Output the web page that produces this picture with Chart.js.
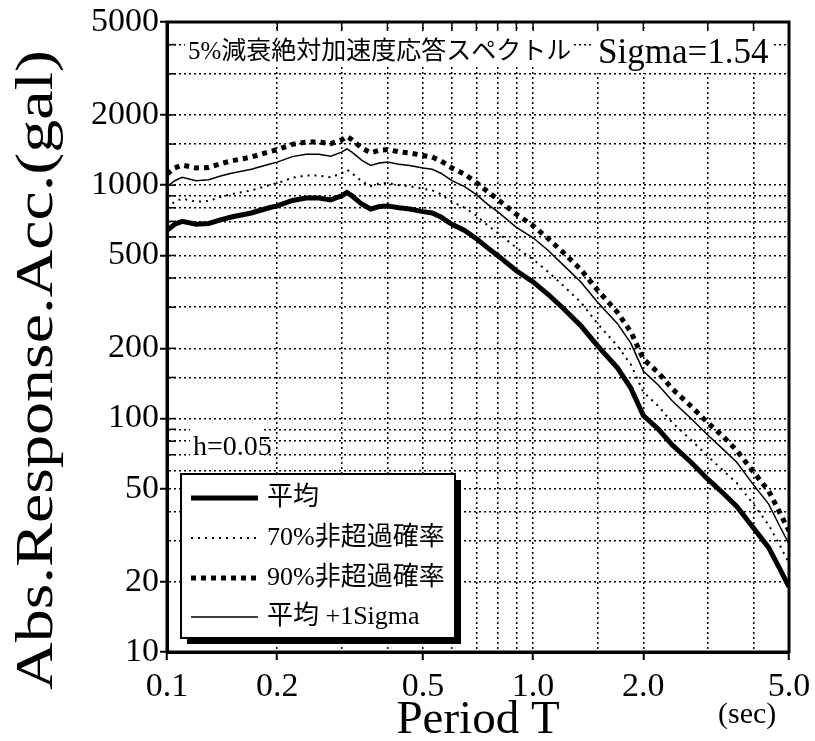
<!DOCTYPE html>
<html>
<head>
<meta charset="utf-8">
<script src="https://cdn.jsdelivr.net/npm/chart.js@4.4.0/dist/chart.umd.min.js"></script>
<style>
body { margin: 0; background: #fff; }
</style>
</head>
<body>
<canvas id="G1" width="815" height="741"></canvas>
<script>
// periodo T (sec)
var periodo = [0.1, 0.105, 0.11, 0.12, 0.13, 0.14, 0.15, 0.17, 0.19, 0.2,
  0.22, 0.24, 0.26, 0.28, 0.3, 0.31, 0.32, 0.34, 0.36, 0.38,
  0.4, 0.43, 0.46, 0.5, 0.53, 0.56, 0.6, 0.65, 0.7, 0.75,
  0.8, 0.9, 1.0, 1.1, 1.2, 1.35, 1.5, 1.7, 1.85, 2.0,
  2.2, 2.4, 2.7, 3.0, 3.3, 3.6, 4.0, 4.4, 4.7, 5.0];

// 平均
var promedio = [640, 680, 700, 680, 685, 710, 730, 760, 800, 815,
  860, 880, 880, 865, 900, 930, 900, 830, 790, 810,
  815, 800, 790, 770, 760, 730, 680, 640, 590, 540,
  500, 430, 385, 340, 300, 250, 205, 165, 135, 103,
  90, 77, 65, 55, 48, 42, 34, 28, 23, 19];

// 70%非超過確率
var p70 = [800, 850, 875, 850, 855, 890, 915, 950, 1000, 1020,
  1075, 1100, 1100, 1080, 1125, 1165, 1125, 1040, 990, 1015,
  1020, 1000, 990, 965, 950, 915, 850, 800, 740, 675,
  625, 540, 480, 425, 375, 315, 255, 205, 170, 130,
  113, 96, 81, 69, 60, 53, 43, 35, 29, 24];

// 90%非超過確率
var p90 = [1115, 1185, 1220, 1185, 1190, 1235, 1270, 1320, 1390, 1420,
  1495, 1530, 1530, 1505, 1565, 1620, 1565, 1445, 1375, 1410,
  1420, 1390, 1375, 1340, 1320, 1270, 1185, 1115, 1025, 940,
  870, 750, 670, 590, 520, 435, 355, 285, 235, 180,
  157, 134, 113, 96, 84, 73, 59, 49, 40, 33];

// 平均 +1Sigma
var sigma1 = [985, 1045, 1080, 1045, 1055, 1095, 1125, 1170, 1230, 1255,
  1325, 1355, 1355, 1330, 1385, 1430, 1385, 1280, 1215, 1245,
  1255, 1230, 1215, 1185, 1170, 1125, 1045, 985, 910, 830,
  770, 660, 595, 525, 460, 385, 315, 255, 210, 160,
  139, 119, 100, 85, 74, 65, 52, 43, 35, 29];

var nombres = ['平均', '70%非超過確率', '90%非超過確率', '平均 +1Sigma'];

var xTicks = [0.1, 0.2, 0.5, 1, 2, 5];
var xTickText = ['0.1', '0.2', '0.5', '1.0', '2.0', '5.0'];
var yTicks = [10, 20, 50, 100, 200, 500, 1000, 2000, 5000];

var SERIF = '"Liberation Serif", "Noto Sans CJK JP", serif';
Chart.defaults.font.family = SERIF;
Chart.defaults.color = '#000';

function buscar(lista, v) {
  for (var i = 0; i < lista.length; i++) {
    if (Math.abs(lista[i] - v) < lista[i] * 1e-6) return i;
  }
  return -1;
}

function puntos(serie) {
  return periodo.map(function (t, i) { return {x: t, y: serie[i]}; });
}

function colorTick(lista) {
  return function (c) {
    if (!c.tick) return '#000';
    return buscar(lista, c.tick.value) >= 0 ? '#000' : 'rgba(0,0,0,0)';
  };
}

var datos = [
  {label: nombres[0], data: puntos(promedio), borderColor: '#000', borderWidth: 5},
  {label: nombres[1], data: puntos(p70), borderColor: '#000', borderWidth: 2, borderDash: [2, 5]},
  {label: nombres[2], data: puntos(p90), borderColor: '#000', borderWidth: 5, borderDash: [5, 5]},
  {label: nombres[3], data: puntos(sigma1), borderColor: '#000', borderWidth: 1.5}
];

// textos dentro del grafico con fondo blanco
function texto(ctx, s, x, y, font, caja) {
  if (caja) {
    ctx.fillStyle = '#fff';
    ctx.fillRect(caja[0], caja[1], caja[2], caja[3]);
  }
  ctx.font = font;
  ctx.fillStyle = '#000';
  ctx.textBaseline = 'alphabetic';
  ctx.textAlign = 'left';
  ctx.fillText(s, x, y);
}

var anotaciones = {
  id: 'anotaciones',
  afterDatasetsDraw: function (chart) {
    var ctx = chart.ctx;
    ctx.save();
    texto(ctx, '5%減衰絶対加速度応答スペクトル', 188, 59, '25px ' + SERIF, [185, 31, 388, 36]);
    texto(ctx, 'Sigma=1.54', 598, 63, '35px ' + SERIF, [594, 29, 180, 44]);
    texto(ctx, 'h=0.05', 193, 455, '28px ' + SERIF, [190, 426, 72, 38]);

    // leyenda
    var bx = 181, by = 474, bw = 274, bh = 164;
    ctx.fillStyle = '#000';
    ctx.fillRect(bx + 6, by + 6, bw, bh);
    ctx.fillStyle = '#fff';
    ctx.fillRect(bx, by, bw, bh);
    ctx.lineWidth = 2;
    ctx.strokeStyle = '#000';
    ctx.strokeRect(bx, by, bw, bh);
    var filas = [498, 538, 578, 617];
    for (var i = 0; i < datos.length; i++) {
      var d = datos[i];
      ctx.beginPath();
      ctx.setLineDash(d.borderDash || []);
      ctx.lineWidth = d.borderWidth;
      ctx.moveTo(191, filas[i]);
      ctx.lineTo(258, filas[i]);
      ctx.stroke();
      ctx.setLineDash([]);
      ctx.font = '26px ' + SERIF;
      ctx.fillStyle = '#000';
      ctx.textBaseline = 'middle';
      ctx.fillText(d.label, 267, filas[i]);
    }

    // (sec)
    texto(ctx, '(sec)', 718, 723, '30px ' + SERIF, null);

    // titulo eje y
    ctx.translate(38, 370);
    ctx.rotate(-Math.PI / 2);
    ctx.font = '52px ' + SERIF;
    var s = 'Abs.Response.Acc.(gal)';
    var w = ctx.measureText(s).width;
    ctx.scale(640 / w, 1);
    ctx.textAlign = 'center';
    ctx.textBaseline = 'middle';
    ctx.fillText(s, 0, 0);
    ctx.restore();
  }
};

// marco y marcas interiores
var marco = {
  id: 'marco',
  afterDraw: function (chart) {
    var ctx = chart.ctx, a = chart.chartArea;
    ctx.save();
    ctx.strokeStyle = '#000';
    ctx.lineWidth = 1.5;
    chart.scales.x.ticks.forEach(function (t) {
      var px = chart.scales.x.getPixelForValue(t.value);
      ctx.beginPath();
      ctx.moveTo(px, a.top);
      ctx.lineTo(px, a.top + 9);
      ctx.stroke();
    });
    chart.scales.y.ticks.forEach(function (t) {
      var py = chart.scales.y.getPixelForValue(t.value);
      if (py > 470 && py < 645) return;
      ctx.beginPath();
      ctx.moveTo(a.left, py);
      ctx.lineTo(a.left + 9, py);
      ctx.stroke();
    });
    ctx.lineWidth = 3;
    ctx.strokeRect(a.left, a.top, a.right - a.left, a.bottom - a.top);
    ctx.restore();
  }
};

var grafico = new Chart(document.getElementById('G1').getContext('2d'), {
  type: 'line',
  data: {datasets: datos},
  options: {
    responsive: false,
    animation: false,
    layout: {padding: {top: 22, right: 26, left: 0, bottom: 0}},
    elements: {point: {radius: 0}, line: {tension: 0, borderCapStyle: 'butt'}},
    plugins: {legend: {display: false}, tooltip: {enabled: false}},
    scales: {
      x: {
        type: 'logarithmic',
        min: 0.1,
        max: 5,
        afterFit: function (s) { s.height = 89; s.paddingRight = 0; s.paddingLeft = 0; },
        grid: {color: '#000', lineWidth: 1.5, tickLength: 8, tickWidth: 2, tickColor: colorTick(xTicks)},
        border: {color: '#000', width: 3, dash: [2, 3]},
        ticks: {
          autoSkip: false, maxRotation: 0, padding: 7,
          font: {size: 34},
          callback: function (v) {
            var i = buscar(xTicks, v);
            return i < 0 ? '' : xTickText[i];
          }
        },
        title: {display: true, text: 'Period T', font: {size: 47}, padding: {top: 0, bottom: -8}}
      },
      y: {
        type: 'logarithmic',
        min: 10,
        max: 5000,
        afterFit: function (s) { s.width = 167; },
        grid: {color: '#000', lineWidth: 1.5, tickLength: 7, tickWidth: 2, tickColor: colorTick(yTicks)},
        border: {color: '#000', width: 3, dash: [2, 3]},
        ticks: {
          autoSkip: false, padding: 1,
          font: {size: 34},
          callback: function (v) {
            return buscar(yTicks, v) < 0 ? '' : String(v);
          }
        }
      }
    }
  },
  plugins: [anotaciones, marco]
});
</script>
</body>
</html>
